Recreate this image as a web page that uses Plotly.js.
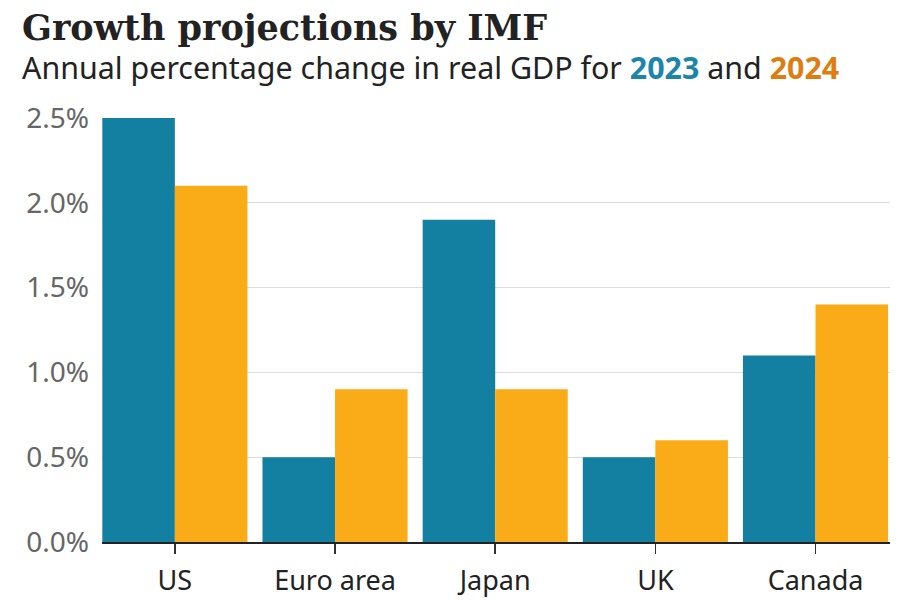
<!DOCTYPE html>
<html><head><meta charset="utf-8">
<script src="https://cdn.plot.ly/plotly-3.0.1.min.js"></script>
<style>html,body{margin:0;padding:0;background:#fff}#chart{width:910px;height:600px}</style>
</head><body><div id="chart"></div>
<script>
const categories = ["US", "Euro area", "Japan", "UK", "Canada"];
const growth2023 = [2.5, 0.5, 1.9, 0.5, 1.1];
const growth2024 = [2.1, 0.9, 0.9, 0.6, 1.4];
const yTicks = [0, 0.5, 1.0, 1.5, 2.0, 2.5];
const yTickLabels = ["0.0%", "0.5%", "1.0%", "1.5%", "2.0%", "2.5%"];

const teal = "#1380A1", orange = "#FAAB18";
const data = [
  {type: "bar", x: categories, y: growth2023, name: "2023", marker: {color: teal}, hoverinfo: "y"},
  {type: "bar", x: categories, y: growth2024, name: "2024", marker: {color: orange}, hoverinfo: "y"}
];
const layout = {
  width: 910, height: 600,
  margin: {l: 102, r: 20, t: 118, b: 58},
  paper_bgcolor: "#fff", plot_bgcolor: "#fff",
  barmode: "group", bargap: 0.094, bargroupgap: 0,
  showlegend: false,
  font: {family: "Noto Sans, Open Sans, sans-serif", color: "#222"},
  xaxis: {
    range: [-0.455, 4.465], showgrid: false, zeroline: false,
    showline: true, linecolor: "#222", linewidth: 2,
    ticks: "outside", ticklen: 10, tickwidth: 1.5, tickcolor: "#333",
    tickfont: {size: 27, color: "#222"}, ticklabelstandoff: 4
  },
  yaxis: {
    range: [0, 2.5], tickvals: yTicks, ticktext: yTickLabels,
    showgrid: true, gridcolor: "#dcdcdc", gridwidth: 1, zeroline: false,
    showline: false, ticks: "", tickfont: {size: 28, color: "#666"}, ticklabelstandoff: 12
  },
  annotations: [
    {xref: "paper", yref: "paper", x: -82/788, y: 1 + 113/424, xanchor: "left", yanchor: "top", showarrow: false,
     text: "<b>Growth projections by IMF</b>", font: {family: "DejaVu Serif, serif", size: 35, color: "#222"}},
    {xref: "paper", yref: "paper", x: -82/788, y: 1 + 73/424, xanchor: "left", yanchor: "top", showarrow: false,
     text: "Annual percentage change in real GDP for <b><span style='color:#1a87aa'>2023</span></b> and <b><span style='color:#df7d10'>2024</span></b>",
     font: {family: "Noto Sans, sans-serif", size: 30.4, color: "#222"}}
  ]
};
Plotly.newPlot("chart", data, layout, {displayModeBar: false, staticPlot: true});
</script></body></html>
